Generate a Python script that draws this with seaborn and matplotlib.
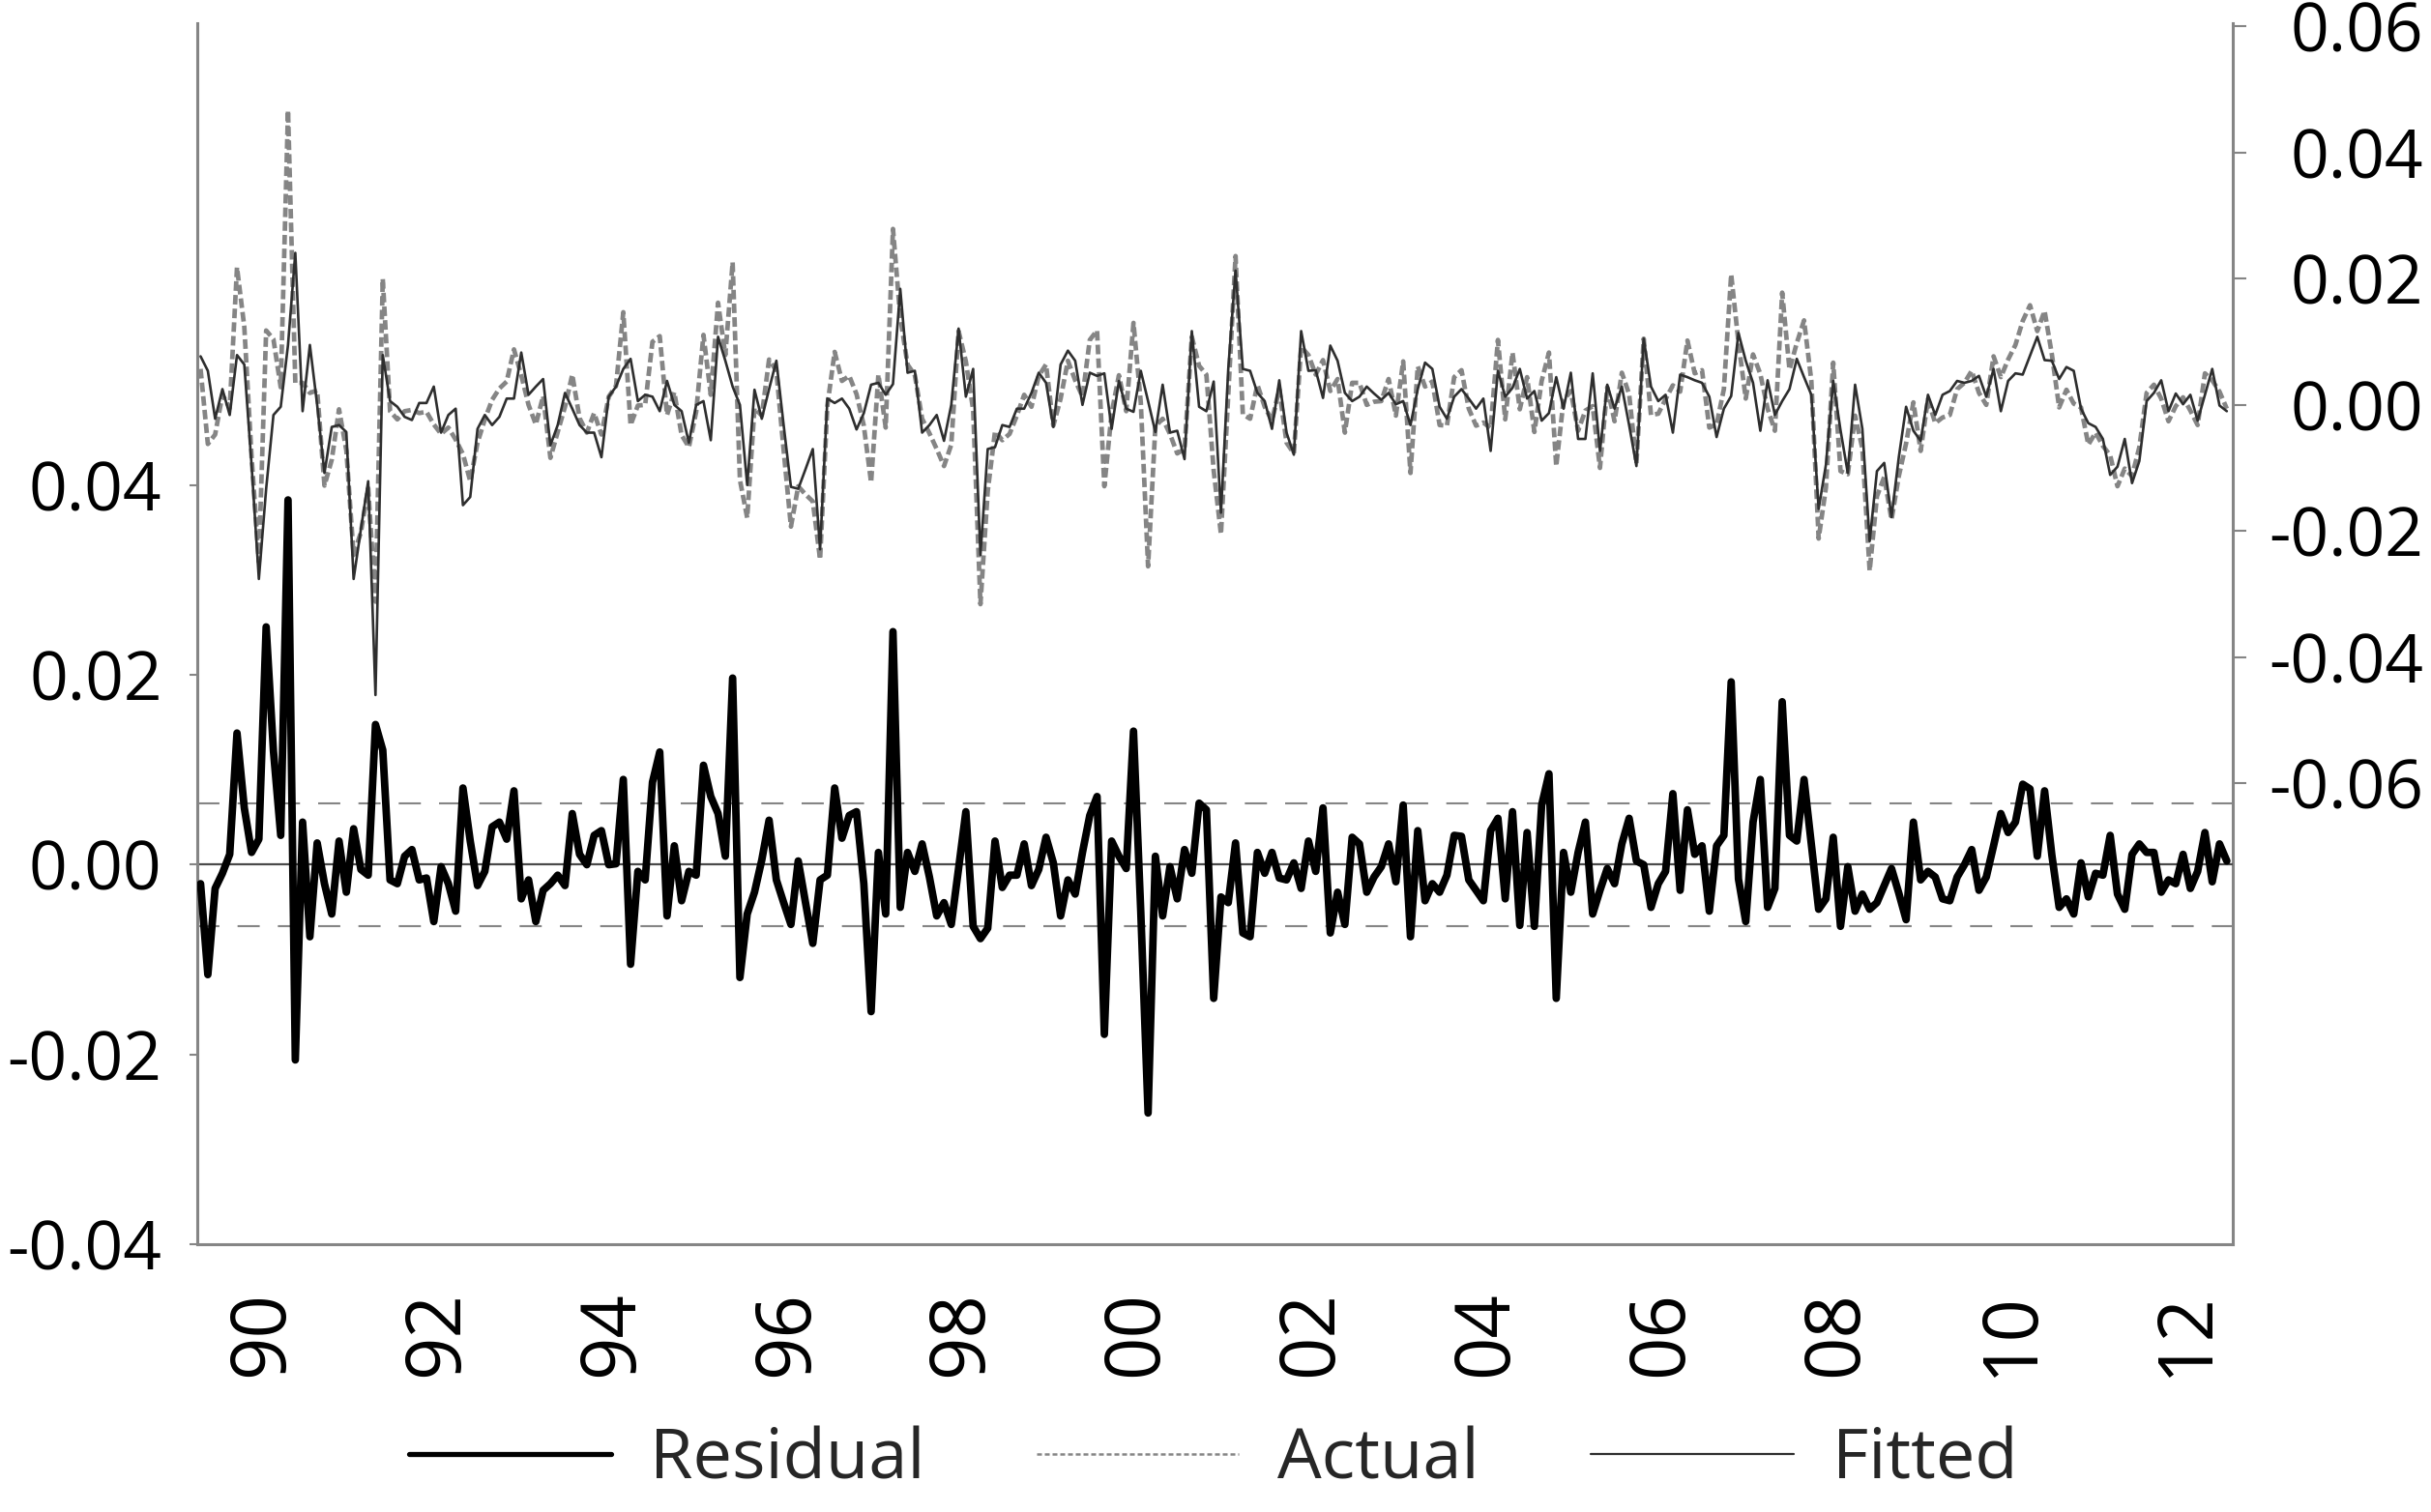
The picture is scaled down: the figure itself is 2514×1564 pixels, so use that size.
import numpy as np
import pandas as pd
import matplotlib
matplotlib.use("Agg")
import matplotlib.pyplot as plt
import matplotlib.transforms as mtransforms
from matplotlib.lines import Line2D
from matplotlib.ticker import FormatStrFormatter
import seaborn as sns

# ---------------- data (monthly, 1990M01 - 2013M03) ----------------
n_obs = 279
months = pd.date_range("1990-01-01", periods=n_obs, freq="MS")

residual = [
    -0.0020, -0.0116, -0.0025, -0.0009, 0.0011, 0.0139, 0.0060, 0.0013, 0.0027, 0.0251, 0.0120, 0.0031,
    0.0385, -0.0206, 0.0045, -0.0076, 0.0023, -0.0020, -0.0052, 0.0025, -0.0029, 0.0038, -0.0005, -0.0011,
    0.0148, 0.0121, -0.0016, -0.0020, 0.0009, 0.0016, -0.0016, -0.0014, -0.0060, -0.0002, -0.0020, -0.0049,
    0.0081, 0.0025, -0.0022, -0.0007, 0.0040, 0.0045, 0.0027, 0.0078, -0.0036, -0.0016, -0.0060, -0.0027,
    -0.0020, -0.0011, -0.0022, 0.0054, 0.0011, 0.0000, 0.0031, 0.0036, 0.0000, 0.0001, 0.0090, -0.0105,
    -0.0007, -0.0016, 0.0087, 0.0119, -0.0054, 0.0020, -0.0038, -0.0007, -0.0011, 0.0105, 0.0072, 0.0054,
    0.0009, 0.0197, -0.0119, -0.0052, -0.0029, 0.0005, 0.0047, -0.0016, -0.0040, -0.0063, 0.0004, -0.0040,
    -0.0083, -0.0016, -0.0011, 0.0081, 0.0028, 0.0052, 0.0056, -0.0020, -0.0155, 0.0013, -0.0052, 0.0246,
    -0.0045, 0.0013, -0.0007, 0.0022, -0.0013, -0.0054, -0.0040, -0.0063, -0.0004, 0.0056, -0.0065, -0.0078,
    -0.0067, 0.0025, -0.0024, -0.0011, -0.0011, 0.0022, -0.0022, -0.0005, 0.0029, 0.0002, -0.0054, -0.0016,
    -0.0031, 0.0013, 0.0052, 0.0072, -0.0179, 0.0025, 0.0009, -0.0004, 0.0141, -0.0050, -0.0262, 0.0009,
    -0.0054, -0.0002, -0.0036, 0.0016, -0.0009, 0.0065, 0.0058, -0.0141, -0.0034, -0.0040, 0.0023, -0.0072,
    -0.0076, 0.0013, -0.0009, 0.0013, -0.0014, -0.0016, 0.0002, -0.0025, 0.0025, -0.0007, 0.0060, -0.0072,
    -0.0029, -0.0063, 0.0029, 0.0022, -0.0029, -0.0013, -0.0002, 0.0022, -0.0018, 0.0063, -0.0076, 0.0036,
    -0.0038, -0.0020, -0.0029, -0.0011, 0.0031, 0.0030, -0.0016, -0.0027, -0.0038, 0.0036, 0.0049, -0.0036,
    0.0056, -0.0064, 0.0034, -0.0065, 0.0063, 0.0096, -0.0141, 0.0013, -0.0029, 0.0013, 0.0045, -0.0052,
    -0.0027, -0.0004, -0.0020, 0.0022, 0.0049, 0.0004, 0.0000, -0.0045, -0.0020, -0.0007, 0.0075, -0.0027,
    0.0058, 0.0011, 0.0020, -0.0049, 0.0020, 0.0031, 0.0193, -0.0015, -0.0060, 0.0045, 0.0090, -0.0045,
    -0.0025, 0.0172, 0.0031, 0.0025, 0.0090, 0.0022, -0.0047, -0.0036, 0.0029, -0.0065, -0.0002, -0.0049,
    -0.0031, -0.0047, -0.0040, -0.0022, -0.0004, -0.0030, -0.0058, 0.0045, -0.0016, -0.0007, -0.0013, -0.0036,
    -0.0038, -0.0013, 0.0000, 0.0016, -0.0027, -0.0013, 0.0020, 0.0054, 0.0034, 0.0045, 0.0085, 0.0080,
    0.0009, 0.0078, 0.0010, -0.0045, -0.0036, -0.0052, 0.0002, -0.0034, -0.0009, -0.0011, 0.0031, -0.0031,
    -0.0047, 0.0011, 0.0022, 0.0013, 0.0013, -0.0029, -0.0016, -0.0020, 0.0011, -0.0025, -0.0007, 0.0034,
    -0.0018, 0.0022, 0.0004,
]

actual = [
    0.0057, -0.0062, -0.0047, 0.0016, -0.0005, 0.0218, 0.0124, -0.0082, -0.0249, 0.0118, 0.0104, 0.0028,
    0.0467, 0.0035, 0.0035, 0.0019, 0.0023, -0.0128, -0.0087, -0.0007, -0.0072, -0.0238, -0.0202, -0.0132,
    -0.0312, 0.0200, -0.0010, -0.0023, -0.0010, -0.0008, -0.0013, -0.0011, -0.0031, -0.0046, -0.0036, -0.0055,
    -0.0078, -0.0121, -0.0060, -0.0023, 0.0008, 0.0026, 0.0037, 0.0088, 0.0047, 0.0000, -0.0031, 0.0014,
    -0.0084, -0.0043, -0.0003, 0.0048, -0.0021, -0.0044, -0.0013, -0.0047, 0.0013, 0.0030, 0.0147, -0.0032,
    -0.0001, 0.0000, 0.0100, 0.0109, -0.0016, 0.0020, -0.0048, -0.0067, -0.0011, 0.0111, 0.0016, 0.0162,
    0.0079, 0.0226, -0.0119, -0.0179, -0.0005, -0.0017, 0.0072, 0.0054, -0.0072, -0.0193, -0.0129, -0.0142,
    -0.0153, -0.0245, -0.0001, 0.0084, 0.0038, 0.0046, 0.0017, -0.0033, -0.0123, 0.0048, -0.0036, 0.0279,
    0.0139, 0.0064, 0.0047, -0.0022, -0.0045, -0.0070, -0.0097, -0.0063, 0.0117, 0.0069, -0.0008, -0.0316,
    -0.0137, -0.0042, -0.0056, -0.0046, -0.0017, 0.0016, -0.0003, 0.0046, 0.0064, -0.0033, 0.0010, 0.0070,
    0.0039, 0.0013, 0.0103, 0.0118, -0.0129, -0.0013, 0.0047, -0.0010, 0.0130, 0.0004, -0.0256, -0.0034,
    -0.0022, -0.0046, -0.0077, -0.0070, 0.0108, 0.0062, 0.0048, -0.0104, -0.0205, 0.0017, 0.0236, -0.0015,
    -0.0022, 0.0032, -0.0003, -0.0025, 0.0025, -0.0060, -0.0077, 0.0092, 0.0079, 0.0048, 0.0071, 0.0022,
    0.0041, -0.0044, 0.0035, 0.0035, 0.0000, 0.0005, 0.0006, 0.0041, -0.0017, 0.0069, -0.0108, 0.0061,
    0.0029, 0.0037, -0.0032, -0.0033, 0.0044, 0.0055, -0.0006, -0.0033, -0.0028, -0.0037, 0.0103, -0.0023,
    0.0083, -0.0007, 0.0044, -0.0043, 0.0038, 0.0083, -0.0097, 0.0007, 0.0022, -0.0041, -0.0009, -0.0002,
    -0.0100, 0.0028, -0.0026, 0.0051, 0.0017, -0.0093, 0.0105, -0.0016, -0.0014, 0.0009, 0.0031, 0.0021,
    0.0102, 0.0050, 0.0055, -0.0036, -0.0031, 0.0025, 0.0207, 0.0099, 0.0010, 0.0080, 0.0049, -0.0006,
    -0.0041, 0.0178, 0.0056, 0.0098, 0.0134, 0.0038, -0.0212, -0.0131, 0.0067, -0.0105, -0.0110, -0.0017,
    -0.0069, -0.0263, -0.0145, -0.0114, -0.0182, -0.0113, -0.0061, 0.0004, -0.0073, 0.0009, -0.0029, -0.0020,
    -0.0016, 0.0025, 0.0035, 0.0054, 0.0019, 0.0000, 0.0077, 0.0044, 0.0072, 0.0095, 0.0133, 0.0158,
    0.0117, 0.0149, 0.0080, -0.0004, 0.0024, 0.0002, -0.0004, -0.0063, -0.0044, -0.0065, -0.0080, -0.0129,
    -0.0101, -0.0113, -0.0067, 0.0019, 0.0032, 0.0010, -0.0026, -0.0002, 0.0012, -0.0009, -0.0032, 0.0050,
    0.0039, 0.0021, -0.0006,
]

fitted = [
    0.0077, 0.0054, -0.0022, 0.0025, -0.0016, 0.0079, 0.0064, -0.0095, -0.0276, -0.0133, -0.0016, -0.0003,
    0.0095, 0.0241, -0.0010, 0.0095, 0.0000, -0.0108, -0.0035, -0.0032, -0.0043, -0.0276, -0.0197, -0.0121,
    -0.0460, 0.0079, 0.0006, -0.0003, -0.0019, -0.0024, 0.0003, 0.0003, 0.0029, -0.0044, -0.0016, -0.0006,
    -0.0159, -0.0146, -0.0038, -0.0016, -0.0032, -0.0019, 0.0010, 0.0010, 0.0083, 0.0016, 0.0029, 0.0041,
    -0.0064, -0.0032, 0.0019, -0.0006, -0.0032, -0.0044, -0.0044, -0.0083, 0.0013, 0.0029, 0.0057, 0.0073,
    0.0006, 0.0016, 0.0013, -0.0010, 0.0038, 0.0000, -0.0010, -0.0060, 0.0000, 0.0006, -0.0056, 0.0108,
    0.0070, 0.0029, 0.0000, -0.0127, 0.0024, -0.0022, 0.0025, 0.0070, -0.0032, -0.0130, -0.0133, -0.0102,
    -0.0070, -0.0229, 0.0010, 0.0003, 0.0010, -0.0006, -0.0039, -0.0013, 0.0032, 0.0035, 0.0016, 0.0033,
    0.0184, 0.0051, 0.0054, -0.0044, -0.0032, -0.0016, -0.0057, 0.0000, 0.0121, 0.0013, 0.0057, -0.0238,
    -0.0070, -0.0067, -0.0032, -0.0035, -0.0006, -0.0006, 0.0019, 0.0051, 0.0035, -0.0035, 0.0064, 0.0086,
    0.0070, 0.0000, 0.0051, 0.0046, 0.0050, -0.0038, 0.0038, -0.0006, -0.0011, 0.0054, 0.0006, -0.0043,
    0.0032, -0.0044, -0.0041, -0.0086, 0.0117, -0.0003, -0.0010, 0.0037, -0.0171, 0.0057, 0.0213, 0.0057,
    0.0054, 0.0019, 0.0006, -0.0038, 0.0039, -0.0044, -0.0079, 0.0117, 0.0054, 0.0055, 0.0011, 0.0094,
    0.0070, 0.0019, 0.0006, 0.0013, 0.0029, 0.0018, 0.0008, 0.0019, 0.0001, 0.0006, -0.0032, 0.0025,
    0.0067, 0.0057, -0.0003, -0.0022, 0.0013, 0.0025, 0.0010, -0.0006, 0.0010, -0.0073, 0.0054, 0.0013,
    0.0027, 0.0057, 0.0010, 0.0022, -0.0025, -0.0013, 0.0044, -0.0006, 0.0051, -0.0054, -0.0054, 0.0050,
    -0.0073, 0.0032, -0.0006, 0.0029, -0.0032, -0.0097, 0.0105, 0.0029, 0.0006, 0.0016, -0.0044, 0.0048,
    0.0044, 0.0039, 0.0035, 0.0013, -0.0051, -0.0006, 0.0014, 0.0114, 0.0070, 0.0035, -0.0041, 0.0039,
    -0.0016, 0.0006, 0.0025, 0.0073, 0.0044, 0.0016, -0.0165, -0.0095, 0.0038, -0.0040, -0.0108, 0.0032,
    -0.0038, -0.0216, -0.0105, -0.0092, -0.0178, -0.0083, -0.0003, -0.0041, -0.0057, 0.0016, -0.0016, 0.0016,
    0.0022, 0.0038, 0.0035, 0.0038, 0.0046, 0.0013, 0.0057, -0.0010, 0.0038, 0.0050, 0.0048, 0.0078,
    0.0108, 0.0071, 0.0070, 0.0041, 0.0060, 0.0054, -0.0006, -0.0029, -0.0035, -0.0054, -0.0111, -0.0098,
    -0.0054, -0.0124, -0.0089, 0.0006, 0.0019, 0.0039, -0.0010, 0.0018, 0.0001, 0.0016, -0.0025, 0.0016,
    0.0057, -0.0001, -0.0010,
]

std_band = 0.0065
left_ticks = [-0.04, -0.02, 0.00, 0.02, 0.04]
right_ticks = [-0.06, -0.04, -0.02, 0.00, 0.02, 0.04, 0.06]
label_years = [1990, 1992, 1994, 1996, 1998, 2000, 2002, 2004, 2006, 2008, 2010, 2012]
year_labels = ["90", "92", "94", "96", "98", "00", "02", "04", "06", "08", "10", "12"]
series_names = ["Residual", "Actual", "Fitted"]

# ---------------- styling ----------------
sns.set_theme(style="white")
plt.rcParams["font.family"] = ["Open Sans", "DejaVu Sans"]
plt.rcParams["axes.unicode_minus"] = False

GRAY = "#858585"
FS = 50

t = months.year + (months.month - 1) / 12.0
df = pd.DataFrame({"t": t, "Residual": residual, "Actual": actual, "Fitted": fitted})

fig = plt.figure(figsize=(25.14, 15.64), dpi=100)
ax = fig.add_axes([0.0810, 0.1774, 0.8374, 0.8072])
ax2 = ax.twinx()
ax.set_zorder(ax2.get_zorder() + 1)
ax.patch.set_visible(False)

# actual / fitted on right axis
sns.lineplot(data=df, x="t", y="Actual", ax=ax2, color=GRAY, linewidth=3.4,
             linestyle=(0, (2.1, 0.9)), estimator=None, sort=False, legend=False)
sns.lineplot(data=df, x="t", y="Fitted", ax=ax2, color="#2e2e2e", linewidth=1.9,
             estimator=None, sort=False, legend=False)

# residual on left axis
ax.axhline(std_band, color=GRAY, lw=1.5, linestyle=(0, (11, 9)), zorder=1)
ax.axhline(-std_band, color=GRAY, lw=1.5, linestyle=(0, (11, 9)), zorder=1)
ax.axhline(0.0, color="#4a4a4a", lw=1.6, zorder=1)
sns.lineplot(data=df, x="t", y="Residual", ax=ax, color="black", linewidth=5.6,
             estimator=None, sort=False, legend=False, zorder=3)

# limits
x0 = 1990 - 0.5 / 12
x1 = 1990 + 278.8 / 12
ax.set_xlim(x0, x1)
ax.set_ylim(-0.04, 0.0888)
ax2.set_ylim(-0.133, 0.0605)

# spines
for a in (ax, ax2):
    a.spines["top"].set_visible(False)
ax.spines["right"].set_visible(False)
ax2.spines["left"].set_visible(False)
ax2.spines["bottom"].set_visible(False)
for s in ("left", "bottom"):
    ax.spines[s].set_color(GRAY)
    ax.spines[s].set_linewidth(2.2)
ax2.spines["right"].set_color(GRAY)
ax2.spines["right"].set_linewidth(2.2)

# y ticks
ax.set_yticks(left_ticks)
ax.yaxis.set_major_formatter(FormatStrFormatter("%.2f"))
ax.tick_params(axis="y", direction="out", length=6, width=1.5, color=GRAY,
               labelsize=FS, pad=20, labelcolor="black")
ax2.set_yticks(right_ticks)
ax2.yaxis.set_major_formatter(FormatStrFormatter("%.2f"))
ax2.tick_params(axis="y", direction="out", length=10, width=1.5, color=GRAY,
                labelsize=FS, pad=132, labelcolor="black")
for lbl in ax2.get_yticklabels():
    lbl.set_horizontalalignment("right")
ax.set_xlabel("")
ax.set_ylabel("")
ax2.set_ylabel("")

# x ticks at year boundaries, long ticks at the ends
ax.set_xticks([y - 0.5 / 12 for y in range(1991, 2014)])
ax.set_xticks([x0, x1], minor=True)
ax.tick_params(axis="x", which="major", direction="out", length=24, width=1.5,
               color=GRAY, labelbottom=False)
ax.tick_params(axis="x", which="minor", direction="out", length=30, width=1.5,
               color=GRAY, labelbottom=False)

lab_trans = mtransforms.offset_copy(ax.get_xaxis_transform(), fig=fig, y=-35, units="points")
for yr, lab in zip(label_years, year_labels):
    pos = yr + 8.5 / 12.0
    ax.text(pos, 0, lab, transform=lab_trans, rotation=90, ha="center", va="top",
            fontsize=FS + 6, color="black")

# legend
handles = [
    Line2D([0], [0], color="black", lw=3.8),
    Line2D([0], [0], color=GRAY, lw=1.8, linestyle=(0, (2.0, 1.2))),
    Line2D([0], [0], color="#2e2e2e", lw=1.6),
]
fig.legend(handles, series_names, loc="center", bbox_to_anchor=(0.499, 0.034), ncol=3,
           frameon=False, fontsize=FS + 2, handlelength=2.9, handletextpad=0.55,
           columnspacing=1.6, borderpad=0.1)

fig.savefig("out.png", dpi=100)
